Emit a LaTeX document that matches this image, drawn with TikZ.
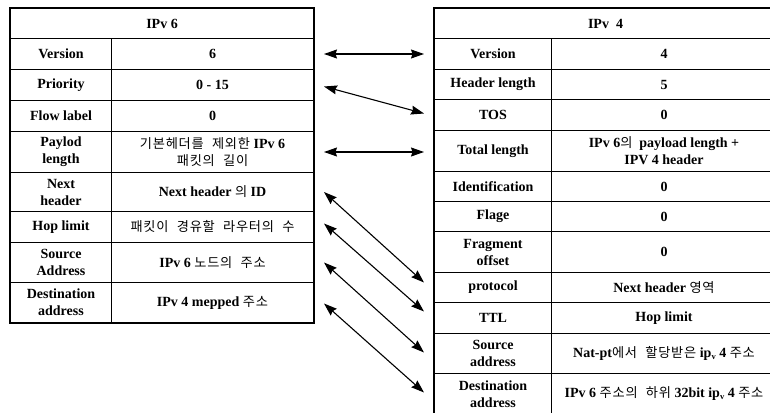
\documentclass[tikz,border=0pt]{standalone}
\usepackage{fontspec}
\setmainfont{Liberation Serif}
\newfontfamily\krfont[WordSpace=2.2,LetterSpace=6]{Noto Sans CJK KR}
\usetikzlibrary{arrows.meta}

% Korean runs: regular-weight sans inside the bold serif cells
\newcommand\kr{\krfont\mdseries\fontsize{13.2}{17}\selectfont}
% lowered small "v" used in "ipv"
\newcommand\lowv{\raisebox{-1.5pt}{\fontsize{8.5}{8.5}\selectfont v}}

\tikzset{
  cell/.style={draw, line width=1pt, rectangle, inner sep=0pt, align=center,
    anchor=north west, font=\fontsize{14}{17}\selectfont\bfseries},
  frame/.style={draw, line width=1.8pt},
  link/.style={line width=1.1pt,
    {Stealth[length=13pt,width=9pt,inset=1.5pt]}-{Stealth[length=13pt,width=9pt,inset=1.5pt]}}
}

% one table row: name, top, bottom, left x, divider x, right x, field, value
\newcommand\fieldrow[8]{%
  \node[cell, minimum width={#5-#4}, minimum height={#3-#2}] (#1k) at (#4,-#2) {#7};
  \node[cell, minimum width={#6-#5}, minimum height={#3-#2}] (#1v) at (#5,-#2) {#8};
}

\begin{document}
\begin{tikzpicture}[x=1pt,y=1pt]
\useasboundingbox (0,0) rectangle (770,-412);
\clip (0,0) rectangle (770,-412);
\fill[white] (0,0) rectangle (770,-412);

% IPv6 header table
\node[cell, minimum width=303, minimum height=30] (Lhead) at (10,-8) {IPv 6};
\fieldrow{Lver}{38}{69}{10}{111}{313}{Version}{6}
\fieldrow{Lpri}{69}{100}{10}{111}{313}{Priority}{0 - 15}
\fieldrow{Lflow}{100}{131}{10}{111}{313}{Flow label}{0}
\fieldrow{Lpay}{131}{172}{10}{111}{313}{Paylod\\length}{{\kr 기본헤더를 제외한} IPv 6\\{\kr 패킷의 길이}}
\fieldrow{Lnext}{172}{211}{10}{111}{313}{Next\\header}{Next header {\kr 의} ID}
\fieldrow{Lhop}{211}{242}{10}{111}{313}{Hop limit}{{\kr 패킷이 경유할 라우터의 수}}
\fieldrow{Lsrc}{242}{282}{10}{111}{313}{Source\\Address}{IPv 6 {\kr 노드의 주소}}
\fieldrow{Ldst}{282}{322}{10}{111}{313}{Destination\\address}{IPv 4 mepped {\kr 주소}}
\draw[frame] (Lhead.north west) rectangle (Ldstv.south east);

% IPv4 header table
\node[cell, minimum width=342, minimum height=30] (Rhead) at (434,-8) {IPv\ \ 4};
\fieldrow{Rver}{38}{69}{434}{551}{776}{Version}{4}
\fieldrow{Rhl}{69}{99}{434}{551}{776}{Header length}{5}
\fieldrow{Rtos}{99}{130}{434}{551}{776}{TOS}{0}
\fieldrow{Rtot}{130}{171}{434}{551}{776}{Total length}{IPv 6{\kr 의}\ \ payload length +\\IPV 4 header}
\fieldrow{Rid}{171}{201}{434}{551}{776}{Identification}{0}
\fieldrow{Rflag}{201}{231}{434}{551}{776}{Flage}{0}
\fieldrow{Rfrag}{231}{272}{434}{551}{776}{Fragment\\offset}{0}
\fieldrow{Rproto}{272}{302}{434}{551}{776}{protocol}{Next header {\kr 영역}}
\fieldrow{Rttl}{302}{333}{434}{551}{776}{TTL}{Hop limit}
\fieldrow{Rsrc}{333}{373}{434}{551}{776}{Source\\address}{Nat-pt{\kr 에서 할당받은} ip\lowv\ 4 {\kr 주소}}
\fieldrow{Rdst}{373}{414}{434}{551}{776}{Destination\\address}{IPv 6 {\kr 주소의 하위} 32bit ip\lowv\ 4 {\kr 주소}}
\draw[frame] (Rhead.north west) rectangle (Rdstv.south east);

% field mappings
\draw[link] ([xshift=10pt]Lverv.east) -- ([xshift=-10pt]Rverk.west);
\draw[link] ([xshift=10pt,yshift=-1.5pt]Lpriv.east) -- ([xshift=-10pt,yshift=1.5pt]Rtosk.west);
\draw[link] ([xshift=10pt]Lpayv.east) -- ([xshift=-10pt]Lpayv.east -| Rtotk.west);
\draw[link] ([xshift=10pt]Lnextv.east) -- ([xshift=-10pt,yshift=5pt]Rprotok.west);
\draw[link] ([xshift=10pt,yshift=3.5pt]Lhopv.east) -- ([xshift=-10pt,yshift=6.5pt]Rttlk.west);
\draw[link] ([xshift=10pt]Lsrcv.east) -- ([xshift=-10pt,yshift=1pt]Rsrck.west);
\draw[link] ([xshift=10pt,yshift=-1pt]Ldstv.east) -- ([xshift=-10pt,yshift=1.5pt]Rdstk.west);
\end{tikzpicture}
\end{document}
